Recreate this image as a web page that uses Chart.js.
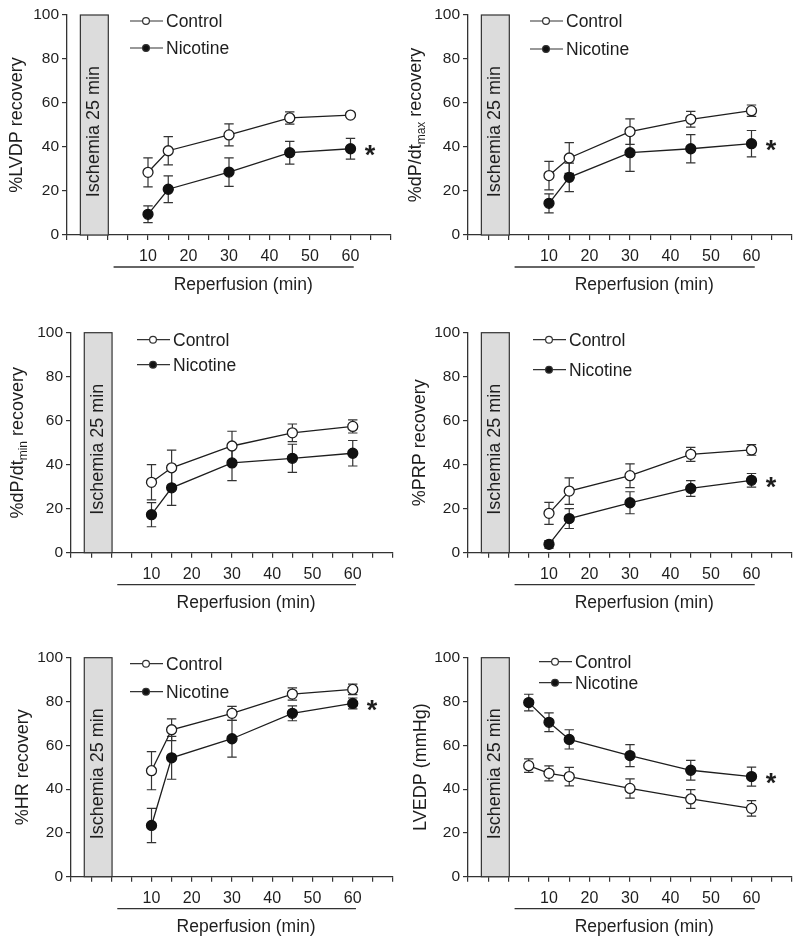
<!DOCTYPE html>
<html>
<head>
<meta charset="utf-8">
<script src="https://cdn.jsdelivr.net/npm/chart.js@4.4.1/dist/chart.umd.min.js"></script>
<style>
  body { margin: 0; background: #fff; width: 800px; height: 941px; position: relative; overflow: hidden; }
  .panel { position: absolute; }
</style>
</head>
<body>
<div class="panel" style="left:0;top:0"><canvas id="c1" width="400" height="310"></canvas></div>
<div class="panel" style="left:400px;top:0"><canvas id="c2" width="400" height="310"></canvas></div>
<div class="panel" style="left:0;top:310px"><canvas id="c3" width="400" height="320"></canvas></div>
<div class="panel" style="left:400px;top:310px"><canvas id="c4" width="400" height="320"></canvas></div>
<div class="panel" style="left:0;top:630px"><canvas id="c5" width="400" height="311"></canvas></div>
<div class="panel" style="left:400px;top:630px"><canvas id="c6" width="400" height="311"></canvas></div>
<script>
// time points (min of reperfusion)
const times = [10, 15, 30, 45, 60];
const timesLVEDP = [5, 10, 15, 30, 45, 60];
const xTickLabels = [10, 20, 30, 40, 50, 60];
const yTicks = [0, 20, 40, 60, 80, 100];
const seriesNames = ['Control', 'Nicotine'];

// %LVDP recovery
const lvdpControl = [28.5, 38.3, 45.5, 53.2, 54.5];
const lvdpControlErr = [6.6, 6.4, 5.0, 2.8, 0.8];
const lvdpNicotine = [9.4, 20.8, 28.6, 37.4, 39.2];
const lvdpNicotineErr = [3.8, 6.1, 6.5, 5.2, 4.7];

// %dP/dt max recovery
const dpMaxControl = [27.0, 35.0, 47.0, 52.6, 56.5];
const dpMaxControlErr = [6.5, 7.0, 5.8, 3.6, 2.6];
const dpMaxNicotine = [14.4, 26.2, 37.4, 39.2, 41.5];
const dpMaxNicotineErr = [4.3, 6.5, 8.5, 6.4, 6.0];

// %dP/dt min recovery
const dpMinControl = [32.0, 38.6, 48.5, 54.5, 57.4];
const dpMinControlErr = [8.0, 8.0, 6.7, 4.0, 3.0];
const dpMinNicotine = [17.3, 29.5, 40.8, 42.9, 45.2];
const dpMinNicotineErr = [5.5, 8.0, 8.0, 6.4, 5.8];

// %PRP recovery
const prpControl = [17.9, 28.0, 35.0, 44.7, 46.7];
const prpControlErr = [5.0, 6.0, 5.4, 3.2, 2.4];
const prpNicotine = [3.8, 15.5, 22.7, 29.2, 32.9];
const prpNicotineErr = [1.7, 4.5, 5.0, 3.6, 3.1];

// %HR recovery
const hrControl = [48.4, 67.1, 74.6, 83.4, 85.5];
const hrControlErr = [8.7, 5.0, 3.2, 2.8, 2.4];
const hrNicotine = [23.4, 54.3, 63.0, 74.6, 79.1];
const hrNicotineErr = [7.8, 9.8, 8.4, 3.4, 2.5];

// LVEDP (mmHg)
const lvedpControl = [50.7, 47.2, 45.7, 40.3, 35.5, 31.2];
const lvedpControlErr = [3.1, 3.4, 4.2, 4.4, 4.3, 3.5];
const lvedpNicotine = [79.5, 70.5, 62.7, 55.3, 48.6, 45.7];
const lvedpNicotineErr = [3.8, 4.3, 4.4, 5.0, 4.5, 4.3];

const ischemiaLabel = 'Ischemia 25 min';
const xTitle = 'Reperfusion (min)';

const FONT = '"Liberation Sans", Arial, Helvetica, sans-serif';
const INK = '#1e1e1e';

const panels = [
  { id: 'c1', title: ['%LVDP recovery'], x: times, ctrl: lvdpControl, ctrlErr: lvdpControlErr,
    nic: lvdpNicotine, nicErr: lvdpNicotineErr, star: true,
    left: 67, top: 15, h: 220, titleX: 17, leg: { dx: 63, y1: 6, y2: 33 } },
  { id: 'c2', title: ['%dP/dt', 'max', ' recovery'], x: times, ctrl: dpMaxControl, ctrlErr: dpMaxControlErr,
    nic: dpMaxNicotine, nicErr: dpMaxNicotineErr, star: true,
    left: 68, top: 15, h: 220, titleX: 16, leg: { dx: 62, y1: 6, y2: 34 } },
  { id: 'c3', title: ['%dP/dt', 'min', ' recovery'], x: times, ctrl: dpMinControl, ctrlErr: dpMinControlErr,
    nic: dpMinNicotine, nicErr: dpMinNicotineErr, star: false,
    left: 71, top: 22.7, h: 220, titleX: 18, leg: { dx: 66, y1: 7, y2: 32 } },
  { id: 'c4', title: ['%PRP recovery'], x: times, ctrl: prpControl, ctrlErr: prpControlErr,
    nic: prpNicotine, nicErr: prpNicotineErr, star: true,
    left: 68, top: 22.7, h: 220, titleX: 20, leg: { dx: 65, y1: 7, y2: 37 } },
  { id: 'c5', title: ['%HR recovery'], x: times, ctrl: hrControl, ctrlErr: hrControlErr,
    nic: hrNicotine, nicErr: hrNicotineErr, star: true,
    left: 71, top: 27.7, h: 219, titleX: 23, leg: { dx: 59, y1: 6, y2: 34 } },
  { id: 'c6', title: ['LVEDP (mmHg)'], x: timesLVEDP, ctrl: lvedpControl, ctrlErr: lvedpControlErr,
    nic: lvedpNicotine, nicErr: lvedpNicotineErr, star: true,
    left: 68, top: 27.7, h: 219, titleX: 21, leg: { dx: 71, y1: 4, y2: 25 } }
];

function makeDecor(p) {
  return {
    id: 'decor',
    beforeDatasetsDraw(chart) {
      const { ctx, scales: { x, y } } = chart;
      ctx.save();
      // ischemia box
      const bx0 = x.getPixelForValue(-6.7), bx1 = x.getPixelForValue(0.2);
      const by0 = y.getPixelForValue(100), by1 = y.getPixelForValue(0);
      ctx.fillStyle = '#dcdcdc';
      ctx.fillRect(bx0, by0, bx1 - bx0, by1 - by0);
      ctx.strokeStyle = '#333';
      ctx.lineWidth = 1.2;
      ctx.strokeRect(bx0, by0, bx1 - bx0, by1 - by0);
      ctx.save();
      ctx.translate((bx0 + bx1) / 2, y.getPixelForValue(47));
      ctx.rotate(-Math.PI / 2);
      ctx.fillStyle = INK;
      ctx.font = '18px ' + FONT;
      ctx.textAlign = 'center';
      ctx.textBaseline = 'middle';
      ctx.fillText(ischemiaLabel, 0, 0);
      ctx.restore();
      // error bars
      ctx.strokeStyle = '#333';
      ctx.lineWidth = 1.2;
      chart.data.datasets.forEach(ds => {
        ds.data.forEach((pt, i) => {
          const e = ds.err[i];
          const px = x.getPixelForValue(pt.x);
          const yt = y.getPixelForValue(pt.y + e), yb = y.getPixelForValue(pt.y - e);
          ctx.beginPath();
          ctx.moveTo(px, yt); ctx.lineTo(px, yb);
          ctx.moveTo(px - 4.7, yt); ctx.lineTo(px + 4.7, yt);
          ctx.moveTo(px - 4.7, yb); ctx.lineTo(px + 4.7, yb);
          ctx.stroke();
        });
      });
      ctx.restore();
    },
    afterDraw(chart) {
      const { ctx, chartArea: a, scales: { x, y } } = chart;
      ctx.save();
      ctx.fillStyle = INK;
      ctx.strokeStyle = '#333';
      // y title (with optional subscript)
      ctx.save();
      ctx.translate(p.titleX, (a.top + a.bottom) / 2);
      ctx.rotate(-Math.PI / 2);
      ctx.textBaseline = 'middle';
      ctx.textAlign = 'left';
      const big = '18px ' + FONT, small = '12px ' + FONT;
      ctx.font = big;
      const w0 = ctx.measureText(p.title[0]).width;
      let w1 = 0, w2 = 0;
      if (p.title.length > 1) {
        ctx.font = small; w1 = ctx.measureText(p.title[1]).width;
        ctx.font = big; w2 = ctx.measureText(p.title[2]).width;
      }
      let sx = -(w0 + w1 + w2) / 2;
      ctx.font = big;
      ctx.fillText(p.title[0], sx, 0);
      if (p.title.length > 1) {
        ctx.font = small;
        ctx.fillText(p.title[1], sx + w0, 5.5);
        ctx.font = big;
        ctx.fillText(p.title[2], sx + w0 + w1, 0);
      }
      ctx.restore();
      // reperfusion bar and label
      const ry = a.bottom + 32;
      ctx.lineWidth = 1.3;
      ctx.beginPath();
      ctx.moveTo(x.getPixelForValue(1.5), ry);
      ctx.lineTo(x.getPixelForValue(60.8), ry);
      ctx.stroke();
      ctx.font = '17.5px ' + FONT;
      ctx.textAlign = 'center';
      ctx.textBaseline = 'middle';
      ctx.fillText(xTitle, x.getPixelForValue(33.5), a.bottom + 50);
      // legend
      const lx = a.left + p.leg.dx;
      [[p.leg.y1, seriesNames[0], '#fff'], [p.leg.y2, seriesNames[1], '#111']].forEach(([dy, label, fill]) => {
        const ly = a.top + dy;
        ctx.lineWidth = 1.2;
        ctx.beginPath();
        ctx.moveTo(lx, ly); ctx.lineTo(lx + 33, ly);
        ctx.stroke();
        ctx.beginPath();
        ctx.arc(lx + 16, ly, 3.4, 0, Math.PI * 2);
        ctx.fillStyle = fill;
        ctx.fill();
        ctx.stroke();
        ctx.fillStyle = INK;
        ctx.font = '17.5px ' + FONT;
        ctx.textAlign = 'left';
        ctx.textBaseline = 'middle';
        ctx.fillText(label, lx + 36, ly + 1);
      });
      // significance mark
      if (p.star) {
        const last = p.nic[p.nic.length - 1];
        ctx.font = 'bold 27px ' + FONT;
        ctx.textAlign = 'center';
        ctx.textBaseline = 'alphabetic';
        ctx.fillText('*', x.getPixelForValue(64.8), y.getPixelForValue(last) + 15.5);
      }
      ctx.restore();
    }
  };
}

panels.forEach(p => {
  const canvas = document.getElementById(p.id);
  const cw = canvas.width, ch = canvas.height;
  const pts = (vals) => vals.map((v, i) => ({ x: p.x[i], y: v }));
  new Chart(canvas.getContext('2d'), {
    type: 'line',
    data: {
      datasets: [
        { label: seriesNames[0], data: pts(p.ctrl), err: p.ctrlErr,
          borderColor: INK, borderWidth: 1.3, pointRadius: 5, pointHoverRadius: 5,
          pointBackgroundColor: '#fff', pointBorderColor: INK, pointBorderWidth: 1.3, tension: 0 },
        { label: seriesNames[1], data: pts(p.nic), err: p.nicErr,
          borderColor: INK, borderWidth: 1.3, pointRadius: 5, pointHoverRadius: 5,
          pointBackgroundColor: '#111', pointBorderColor: '#111', pointBorderWidth: 1.3, tension: 0 }
      ]
    },
    options: {
      responsive: false,
      animation: false,
      events: [],
      layout: { padding: { left: 0, top: p.top, right: cw - p.left - 324, bottom: 0 } },
      plugins: { legend: { display: false }, tooltip: { enabled: false } },
      scales: {
        x: {
          type: 'linear', min: -10, max: 70,
          afterFit: s => { s.height = ch - p.top - p.h; },
          border: { display: true, color: '#333', width: 1.3 },
          grid: { drawOnChartArea: false, drawTicks: true, tickLength: 5, color: '#333', lineWidth: 1.2 },
          ticks: {
            stepSize: 5, autoSkip: false, maxRotation: 0, padding: 7,
            color: INK, font: { family: FONT, size: 16 },
            callback: v => xTickLabels.includes(v) ? String(v) : ''
          }
        },
        y: {
          min: 0, max: 100,
          afterFit: s => { s.width = p.left; },
          afterBuildTicks: s => { s.ticks = yTicks.map(v => ({ value: v })); },
          border: { display: true, color: '#333', width: 1.3 },
          grid: { drawOnChartArea: false, drawTicks: true, tickLength: 5, color: '#333', lineWidth: 1.2 },
          ticks: { padding: 3, color: INK, font: { family: FONT, size: 15.5 } }
        }
      }
    },
    plugins: [makeDecor(p)]
  });
});
</script>
</body>
</html>
